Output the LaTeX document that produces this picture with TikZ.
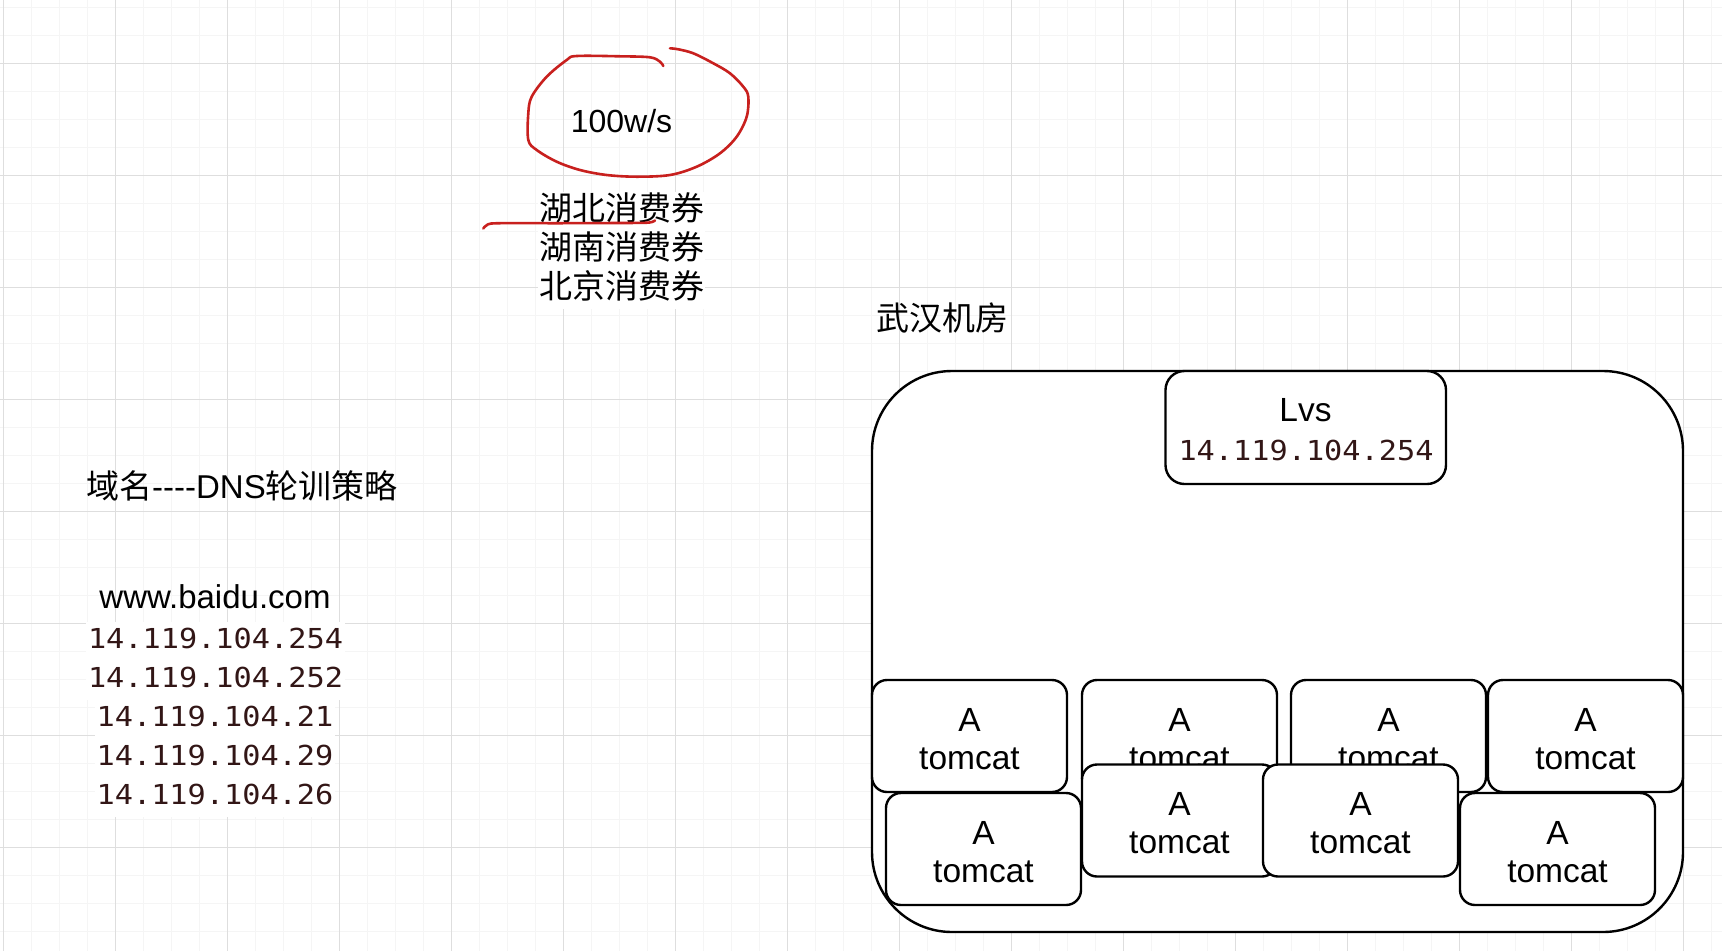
\documentclass[tikz,border=0pt]{standalone}
\usepackage{fontspec}
\setmainfont{Liberation Sans}
\newfontfamily\cjk{Noto Sans CJK SC}
\newfontfamily\monoip{DejaVu Sans Mono}[FakeStretch=1.1]
\usetikzlibrary{calc}
\definecolor{ipcol}{RGB}{50,22,22}
\definecolor{inkred}{RGB}{200,32,30}
\definecolor{gridmajor}{RGB}{222,222,222}
\definecolor{gridminor}{RGB}{245,245,245}
\newcommand\tomcatbox[3]{%
  \node[tbox] (#1) at (#2,#3) {};
  \node[lbl, anchor=base] (#1a) at ($(#1.north)+(0,51)$) {A};
  \node[lbl, anchor=base] (#1b) at ($(#1.north)+(0,89)$) {tomcat};
}
\begin{document}
\begin{tikzpicture}[x=1pt,y=-1pt,
  lbl/.style={inner sep=0pt, font=\fontsize{33.5}{40}\selectfont},
  cjklbl/.style={inner sep=0pt, font=\cjk\fontsize{33}{40}\selectfont},
  vlbl/.style={cjklbl, fill=white, inner xsep=1pt, text height=29pt, text depth=10pt},
  ipl/.style={font=\monoip\fontsize{27.5}{38}\selectfont, text=ipcol, fill=white,
    inner xsep=2pt, inner ysep=0pt, text height=27pt, text depth=12pt},
  hall/.style={draw, line width=2.4pt, rounded corners=80pt, fill=white, inner sep=0pt, outer sep=0pt},
  lvsbox/.style={draw, line width=2.4pt, rounded corners=19pt, fill=white, inner sep=0pt, outer sep=0pt},
  tbox/.style={draw, line width=2.4pt, rounded corners=15pt, fill=white,
    minimum width=195pt, minimum height=112pt, inner sep=0pt, outer sep=0pt},
  redink/.style={draw=inkred, line width=2.6pt, line cap=round, line join=round},
]
\fill[white] (0,0) rectangle (1722,951);
\useasboundingbox (0,0) rectangle (1722,951);
% grid
\foreach \k in {0,...,61} {\draw[gridminor, line width=1pt] ({3.5+28*\k},0) -- ({3.5+28*\k},951);}
\foreach \k in {0,...,33} {\draw[gridminor, line width=1pt] (0,{7.3+28*\k}) -- (1722,{7.3+28*\k});}
\foreach \k in {0,...,15} {\draw[gridmajor, line width=1.3pt] ({3.5+112*\k},0) -- ({3.5+112*\k},951);}
\foreach \k in {0,...,7} {\draw[gridmajor, line width=1.3pt] (0,{63.3+112*\k}) -- (1722,{63.3+112*\k});}

% top: rate and vouchers
\node[lbl, anchor=base, font=\fontsize{32}{38}\selectfont] (rate) at (621.5,132) {100w/s};
\draw[redink] plot[smooth, tension=0.55] coordinates {
 (663.3,66) (660,61.7) (650,57.3) (620,56.3) (576.7,56) (566.7,60) (546.7,76.7) (531.7,96.7)
 (528.3,113.3) (528.3,140) (536.7,150) (556.7,161.7) (580,170) (606.7,175) (636.7,176.7)
 (670,175) (696.7,166.7) (720,153.3) (736.7,136.7) (746.7,116.7) (748.3,96.7) (743.3,86.7)
 (730,73.3) (713.3,63.3) (693.3,53.3) (678.3,49.3) (670,48.3)};

\node[vlbl, anchor=base] (v1) at (621.5,220.5) {湖北消费券};
\node[vlbl, anchor=base] (v2) at (621.5,259.5) {湖南消费券};
\node[vlbl, anchor=base] (v3) at (621.5,298.5) {北京消费券};
\draw[redink] plot[smooth, tension=0.5] coordinates {
 (483.3,228.5) (488,224.3) (500,223.2) (560,223.2) (620,223) (645,222.8) (652,222) (655,220.5)};

% left: DNS
\node[lbl, anchor=base west, font=\fontsize{33}{40}\selectfont] (dns) at (86,498.5) {{\cjk 域名}-\kern0pt-\kern0pt-\kern0pt-DNS{\cjk 轮训策略}};
\node[lbl, anchor=base, font=\fontsize{33}{40}\selectfont] (www) at (215,608) {www.baidu.com};
\node[ipl, anchor=base] (ip1) at (215.5,648.5) {14.119.104.254};
\node[ipl, anchor=base] (ip2) at (215.5,687.5) {14.119.104.252};
\node[ipl, anchor=base] (ip3) at (215,726.5) {14.119.104.21};
\node[ipl, anchor=base] (ip4) at (215,765.5) {14.119.104.29};
\node[ipl, anchor=base] (ip5) at (215,804.5) {14.119.104.26};

% Wuhan machine room
\node[cjklbl, anchor=base west] (room) at (876,330.5) {武汉机房};
\node[hall, minimum width=811pt, minimum height=561pt] (hall) at (1277.5,651.5) {};
\node[lvsbox, minimum width=280.5pt, minimum height=113pt] (lvs) at (1305.75,427.5) {};
\node[lbl, anchor=base] (lvsname) at (1305.5,421.7) {Lvs};
\node[ipl, anchor=base, fill=none] (lvsip) at (1306,460.7) {14.119.104.254};

\tomcatbox{t1}{969.5}{736}
\tomcatbox{t2}{1179.5}{736}
\tomcatbox{t3}{1388.5}{736}
\tomcatbox{t4}{1585.5}{736}
\tomcatbox{t5}{983.5}{849}
\tomcatbox{t6}{1179.5}{820.5}
\tomcatbox{t7}{1360.5}{820.5}
\tomcatbox{t8}{1557.5}{849}
\end{tikzpicture}
\end{document}
